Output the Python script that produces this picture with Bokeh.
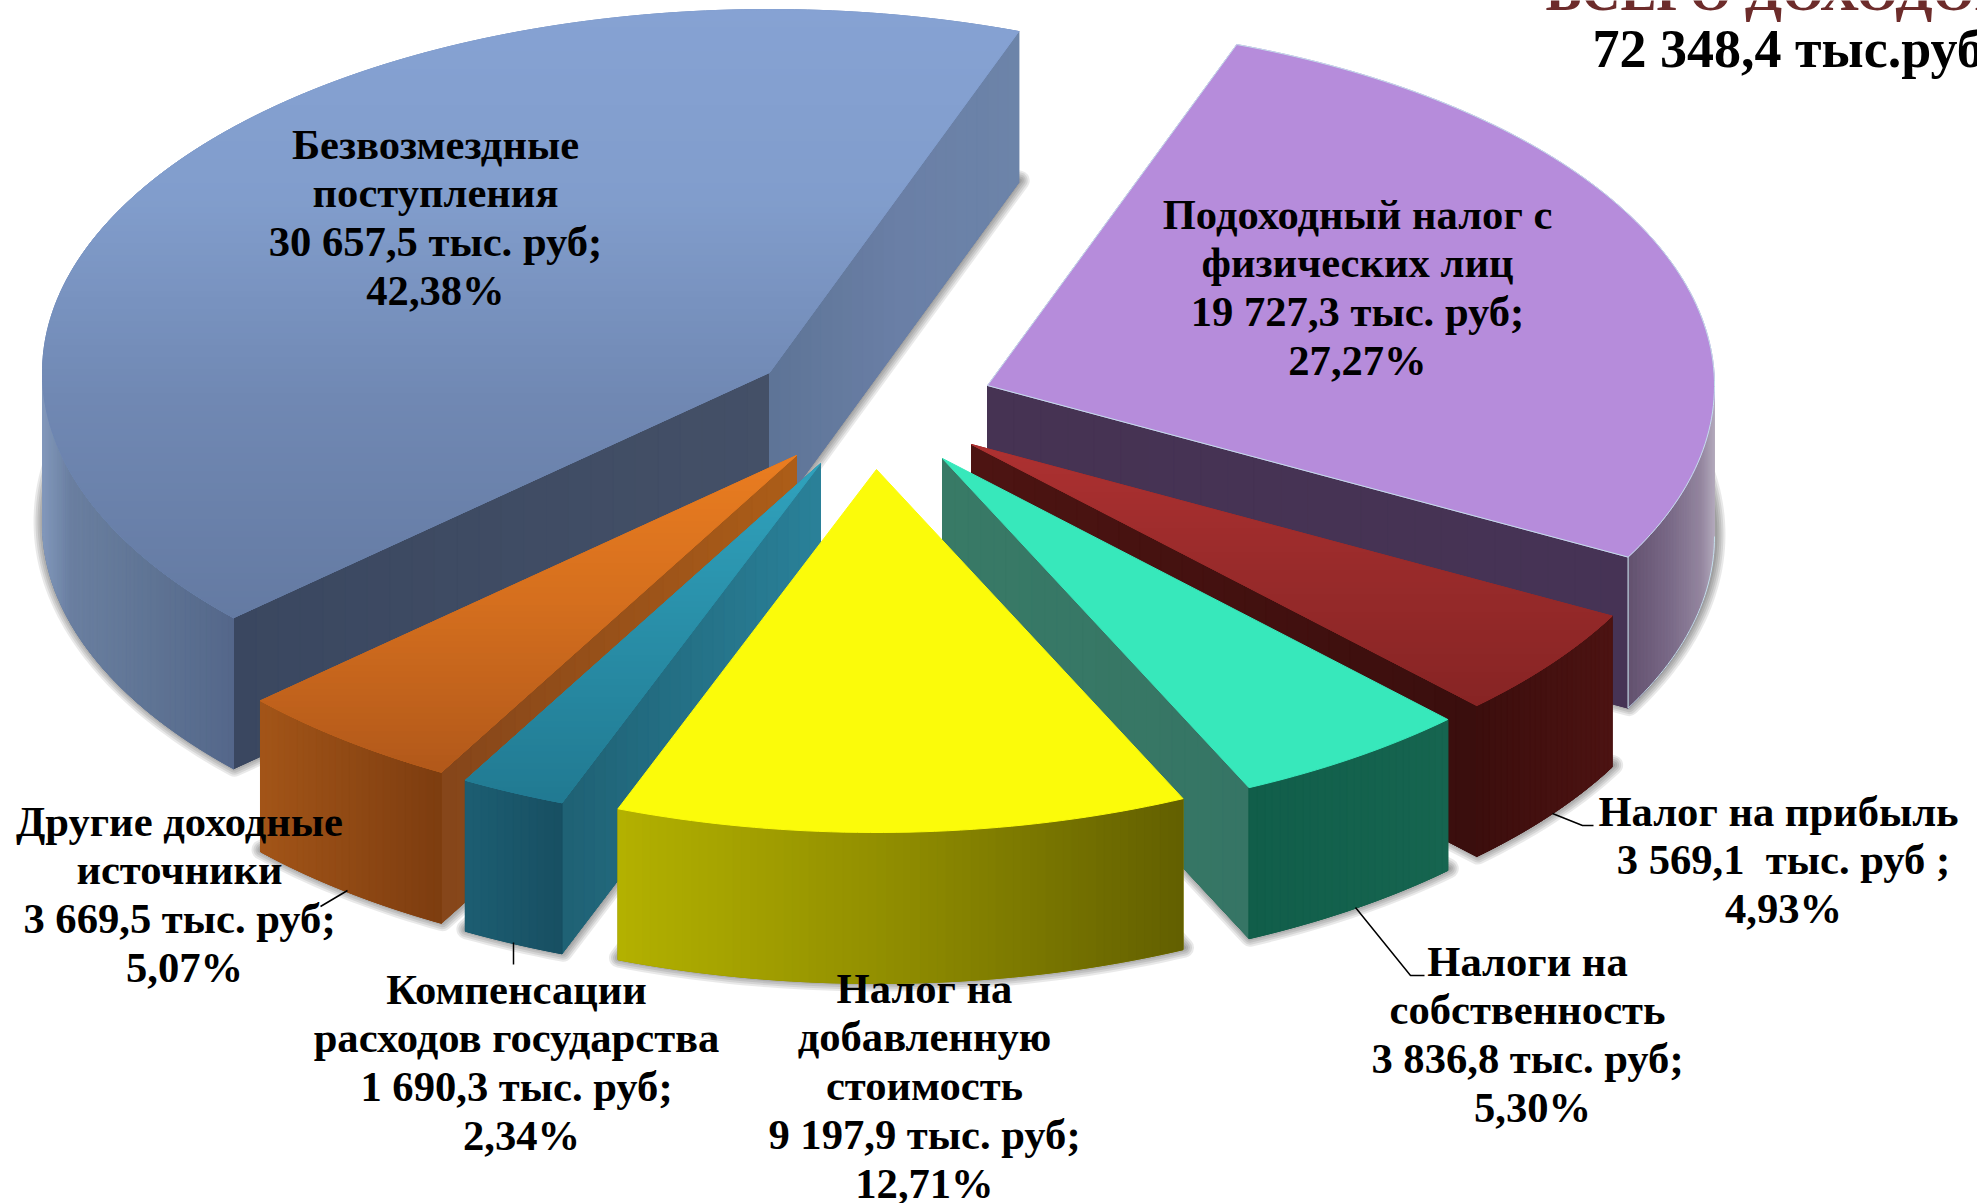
import math
from bokeh.plotting import figure
from bokeh.models import Range1d, ColumnDataSource
from bokeh.core.properties import value
from bokeh.embed import file_html
from bokeh.resources import INLINE

# ---------- data ----------
categories = ["Подоходный налог с физических лиц", "Налог на прибыль", "Налоги на собственность",
              "Налог на добавленную стоимость", "Компенсации расходов государства",
              "Другие доходные источники", "Безвозмездные поступления"]
values = [19727.3, 3569.1, 3836.8, 9197.9, 1690.3, 3669.5, 30657.5]
labels = [
    ["Подоходный налог с", "физических лиц", "19 727,3 тыс. руб;", "27,27%"],
    ["Налог на прибыль", "3 569,1\u00a0 тыс. руб ;", "4,93%"],
    ["Налоги на", "собственность", "3 836,8 тыс. руб;", "5,30%"],
    ["Налог на", "добавленную", "стоимость", "9 197,9 тыс. руб;", "12,71%"],
    ["Компенсации", "расходов государства", "1 690,3 тыс. руб;", "2,34%"],
    ["Другие доходные", "источники", "3 669,5 тыс. руб;", "5,07%"],
    ["Безвозмездные", "поступления", "30 657,5 тыс. руб;", "42,38%"],
]
title_lines = ["ВСЕГО ДОХОДОВ", "72 348,4 тыс.руб."]

# ---------- layout ----------
W, H = 1977, 1203
RX, RY, DEPTH = 727, 363, 151
START = 20.05
apex = [(987, 385), (971, 444), (942, 458), (876, 469), (820, 463), (796, 455), (769, 372)]
draw_order = [6, 0, 5, 4, 1, 2, 3]
label_x = [1357, 1778, 1527, 924, 516, 179, 435]
label_y0 = [213.5, 810.5, 960.5, 987.5, 988.5, 820.5, 143.5]
label_dx = [[0, 0, 0, 0], [0, 5, 5], [0, 0, 0, 5], [0, 0, 0, 0, 0], [0, 0, 0, 5], [0, 0, 0, 5], [0, 0, 0, 0]]
LINE_H = 48.9
FONT = "Liberation Serif"
LABEL_PX = "42.6px"

# gradient stops: top = by y, outer/radial = by x
style = [
    dict(top=[(380, "#b68cdb")], radial=[(980, "#463353"), (1630, "#463355")],
         outer=[(1629, "#645270"), (1670, "#7a6a88"), (1700, "#94869f"), (1714, "#b4abbd")]),
    dict(top=[(444, "#ae3131"), (560, "#9a2b2b"), (705, "#872424")], radial=[(971, "#4d1412"), (1476, "#3a0e0d")],
         outer=[(1476, "#3c0e0d"), (1612, "#4c1312")]),
    dict(top=[(458, "#37e8bb")], radial=[(942, "#387a66"), (1250, "#367565")],
         outer=[(1250, "#115e4a"), (1448, "#166550")]),
    dict(top=[(469, "#fbfb0a")], radial=[(618, "#000000"), (1184, "#000000")],
         outer=[(618, "#b3b100"), (900, "#8f8c00"), (1184, "#625f00")]),
    dict(top=[(463, "#30a2bd"), (800, "#217a92")], radial=[(561, "#1f6174"), (820, "#2a8199")],
         outer=[(465, "#1c5e72"), (561, "#184f62")]),
    dict(top=[(455, "#ea7d20"), (600, "#d56f1e"), (775, "#b1581a")], radial=[(441, "#85461a"), (796, "#ad5e18")],
         outer=[(258, "#a35518"), (441, "#7d3d10")]),
    dict(top=[(9, "#86a2d3"), (200, "#819dcc"), (400, "#7088b3"), (620, "#647aa2")],
         radial=[(233, "#3a4760"), (769, "#445067"), (770, "#5e7496"), (900, "#6a7fa6"), (1017, "#6c84a9")],
         outer=[(42, "#8298bb"), (70, "#6a7fa0"), (150, "#5f7494"), (233, "#54678a")]),
]


def lerp_color(stops, v):
    if v <= stops[0][0]:
        return stops[0][1]
    for (a, ca), (b, cb) in zip(stops, stops[1:]):
        if v <= b:
            f = (v - a) / (b - a) if b > a else 0
            c = [round(int(ca[i:i + 2], 16) * (1 - f) + int(cb[i:i + 2], 16) * f) for i in (1, 3, 5)]
            return "#%02x%02x%02x" % tuple(c)
    return stops[-1][1]


def pt(c, t):
    r = math.radians(t)
    return c[0] + RX * math.sin(r), c[1] - RY * math.cos(r)


def clip_band(poly, y0, y1):
    def clip(pts, keep, cross):
        out = []
        for i, a in enumerate(pts):
            b = pts[(i + 1) % len(pts)]
            if keep(a):
                out.append(a)
            if keep(a) != keep(b):
                out.append(cross(a, b))
        return out

    def cross_at(y):
        return lambda a, b: (a[0] + (b[0] - a[0]) * (y - a[1]) / (b[1] - a[1]), y)

    p = clip(poly, lambda q: q[1] >= y0, cross_at(y0))
    if p:
        p = clip(p, lambda q: q[1] <= y1, cross_at(y1))
    return p


p = figure(width=W, height=H, output_backend="svg", toolbar_location=None,
           x_range=Range1d(0, W), y_range=Range1d(H, 0), min_border=0,
           outline_line_color=None, background_fill_color="white", border_fill_color="white")
p.xaxis.visible = False
p.yaxis.visible = False
p.grid.visible = False


def add_patches(polys, colors):
    src = ColumnDataSource(dict(xs=[[q[0] for q in g] for g in polys],
                                ys=[[q[1] for q in g] for g in polys], c=colors))
    p.patches("xs", "ys", source=src, fill_color="c", line_color="c", line_width=1)


total = sum(values)
spans = []
cum = START
for v in values:
    spans.append((cum, cum + v / total * 360))
    cum += v / total * 360

for i in draw_order:
    t0, t1 = spans[i]
    c = apex[i]
    st = style[i]
    n = max(8, int(t1 - t0))
    arc = [pt(c, t0 + (t1 - t0) * k / n) for k in range(n + 1)]
    top = [c] + arc

    # soft shadow of the underside
    base = [(x + 1, y + DEPTH - 2) for x, y in top]
    for lw in (20, 16, 12, 8, 4):
        p.patch([q[0] for q in base], [q[1] for q in base], fill_color="black", fill_alpha=0.0,
                line_color="black", line_alpha=0.085, line_width=lw, line_join="round")

    # radial cut walls that face the viewer
    for edge_t, normal in ((t0, t0 - 90), (t1, t1 + 90)):
        if math.cos(math.radians(normal)) < 0:
            e = pt(c, edge_t)
            m = 24
            polys, cols = [], []
            for k in range(m):
                a = (c[0] + (e[0] - c[0]) * k / m, c[1] + (e[1] - c[1]) * k / m)
                b = (c[0] + (e[0] - c[0]) * (k + 1) / m, c[1] + (e[1] - c[1]) * (k + 1) / m)
                polys.append([a, b, (b[0], b[1] + DEPTH), (a[0], a[1] + DEPTH)])
                cols.append(lerp_color(st["radial"], (a[0] + b[0]) / 2))
            whole = [c, e, (e[0], e[1] + DEPTH), (c[0], c[1] + DEPTH)]
            add_patches([whole] + polys, [cols[m // 2]] + cols)

    # outer rim, front half only
    lo, hi = max(t0, 90), min(t1, 270)
    if hi > lo:
        m = max(6, int((hi - lo) * 1.5))
        polys, cols = [], []
        upper = [pt(c, lo + (hi - lo) * k / m) for k in range(m + 1)]
        for a, b in zip(upper, upper[1:]):
            polys.append([a, b, (b[0], b[1] + DEPTH), (a[0], a[1] + DEPTH)])
            cols.append(lerp_color(st["outer"], (a[0] + b[0]) / 2))
        whole = upper + [(q[0], q[1] + DEPTH) for q in reversed(upper)]
        add_patches([whole] + polys, [cols[m // 2]] + cols)

    # top face: horizontal bands follow the vertical gradient
    if len(st["top"]) == 1:
        add_patches([top], [st["top"][0][1]])
    else:
        ys = [q[1] for q in top]
        y = min(ys)
        polys, cols = [top], [lerp_color(st["top"], (min(ys) + max(ys)) / 2)]
        while y < max(ys):
            band = clip_band(top, y, y + 6)
            if len(band) >= 3:
                polys.append(band)
                cols.append(lerp_color(st["top"], y + 3))
            y += 6
        add_patches(polys, cols)

    if i == 0:  # pale hairline round the purple slice
        rim = [c] + arc + [c]
        p.line([q[0] for q in rim], [q[1] for q in rim], line_color="#c4dfea", line_width=1)
        low = [pt(c, 90 + (t1 - 90) * k / 30) for k in range(31)]
        p.line([q[0] for q in low], [q[1] + DEPTH for q in low], line_color="#c4dfea", line_width=1)
        e = pt(c, t1)
        p.line([e[0], e[0]], [e[1], e[1] + DEPTH], line_color="#c4dfea", line_width=1)

# leader lines
leaders = [
    ([1552, 1582, 1593], [813, 825, 825]),
    ([1355, 1410, 1424], [907, 975, 975]),
    ([513, 513], [942, 964]),
    ([347, 320], [890, 906]),
]
for lx, ly in leaders:
    p.line(lx, ly, line_color="black", line_width=1.5)

# labels
for i, lines in enumerate(labels):
    p.text([label_x[i] + d for d in label_dx[i]], [label_y0[i] + LINE_H * k for k in range(len(lines))], text=lines,
           text_align="center", text_baseline="middle", text_color="black",
           text_font=value(FONT), text_font_style="bold", text_font_size=value(LABEL_PX))

p.text([1545], [-9], text=[title_lines[0]], text_align="left", text_baseline="alphabetic", text_color="#6d2c2b",
       text_font=value(FONT), text_font_style="bold", text_font_size=value("54px"))
p.text([1592], [48], text=[title_lines[1]], text_align="left", text_baseline="alphabetic", text_color="black",
       text_font=value(FONT), text_font_style="bold", text_font_size=value("54px"))

open("out.html", "w").write(file_html(p, INLINE))
